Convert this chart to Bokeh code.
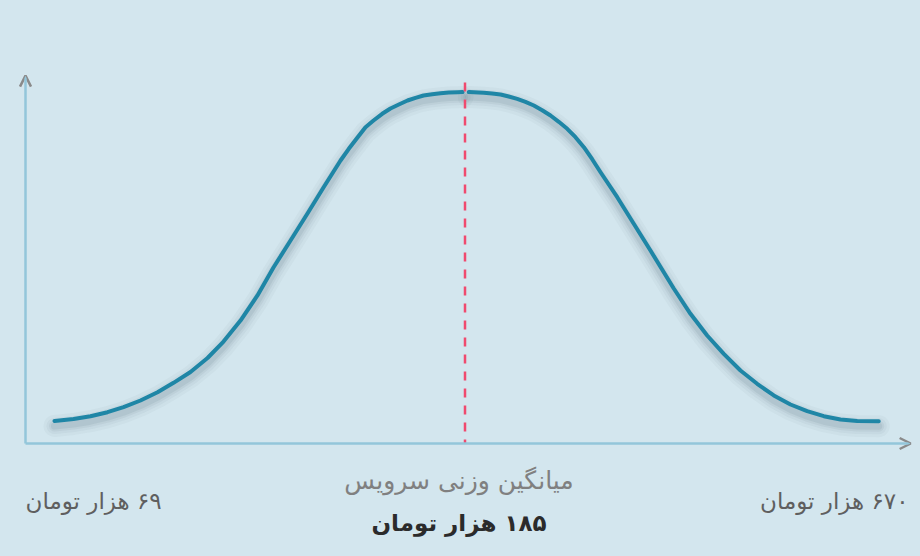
from bokeh.plotting import figure
from bokeh.models import Range1d, Arrow, OpenHead, Label, GlobalInlineStyleSheet
from bokeh.embed import file_html
from bokeh.resources import INLINE

# ---------------- data (x: position 0-100 along price axis, y: relative frequency 0-100) -------------
left_x = [3.30, 5.46, 7.39, 9.33, 11.15, 13.08, 15.02, 16.84, 18.77, 20.71, 22.53, 24.46, 26.39,
          28.21, 30.15, 32.08, 33.90, 35.84, 36.78, 37.77, 38.68, 39.59, 40.58, 41.52, 42.47,
          43.46, 44.37, 45.28, 46.27, 47.21, 48.16, 49.15, 49.72]
left_y = [6.23, 6.79, 7.56, 8.67, 10.06, 11.91, 14.21, 16.81, 19.81, 23.68, 28.25, 34.07, 41.00,
          48.75, 56.23, 63.71, 70.91, 78.39, 81.63, 84.76, 87.62, 89.47, 91.33, 92.80, 93.91,
          95.01, 95.76, 96.40, 96.76, 97.04, 97.23, 97.31, 97.34]
right_x = [50.43, 52.14, 53.09, 54.04, 54.98, 55.94, 56.88, 57.83, 58.78, 59.73, 60.67, 61.63,
           62.57, 63.52, 64.47, 65.42, 67.32, 69.20, 71.10, 73.75, 75.65, 77.55, 79.44, 81.34,
           83.24, 85.13, 87.03, 88.93, 90.82, 92.72, 94.62, 97.07]
right_y = [97.34, 97.15, 96.95, 96.68, 96.12, 95.48, 94.65, 93.63, 92.33, 90.86, 89.11, 87.17,
           84.85, 82.08, 78.75, 75.15, 68.23, 60.86, 53.46, 42.94, 35.93, 29.92, 24.85, 20.22,
           16.54, 13.30, 10.80, 8.95, 7.56, 6.65, 6.23, 6.18]

mean_x = 50.0
mean_top = 100.0
x_axis_end = 100.7
y_axis_end = 101.9

mean_caption = "میانگین وزنی سرویس"
mean_label = "۱۸۵ هزار تومان"
min_label = "۶۹ هزار تومان"
max_label = "۶۷۰ هزار تومان"

# ---------------- layout / style ----------------
W, H = 920, 556
BG = "#d3e6ee"
ORIG_PX, ORIG_PY = 25, 443             # origin in canvas pixels
SX, SY = 8.79, 3.61                    # pixels per data unit

x0 = -ORIG_PX / SX
x1 = (W - ORIG_PX) / SX
y0 = -(H - ORIG_PY) / SY
y1 = ORIG_PY / SY

p = figure(width=W, height=H, output_backend="svg", toolbar_location=None,
           x_range=Range1d(x0, x1), y_range=Range1d(y0, y1),
           x_axis_type=None, y_axis_type=None, min_border=0,
           background_fill_color=BG, border_fill_color=BG, outline_line_color=None)
p.grid.visible = False
p.stylesheets = [GlobalInlineStyleSheet(css=f"body {{ background: {BG}; }}")]

# shadow (drawn on a shifted range so it sits a few px below the curve)
shift = 5 / SY
p.extra_y_ranges = {"shadow": Range1d(y0 + shift, y1 + shift)}
for w, a in [(22, 0.035), (16, 0.045), (11, 0.06), (7, 0.08)]:
    for xs, ys in [(left_x, left_y), (right_x, right_y)]:
        p.line(xs, ys, line_color="#2c4a58", line_width=w, line_alpha=a,
               line_cap="round", line_join="round", y_range_name="shadow")

# axes with arrows
p.add_layout(Arrow(x_start=0, y_start=0, x_end=x_axis_end, y_end=0,
                   line_color="#93c6da", line_width=2.5,
                   end=OpenHead(size=11, line_color="#8a8a8a", line_width=2.5)))
p.add_layout(Arrow(x_start=0, y_start=0, x_end=0, y_end=y_axis_end,
                   line_color="#93c6da", line_width=2.5,
                   end=OpenHead(size=11, line_color="#8a8a8a", line_width=2.5)))

# curve
for xs, ys in [(left_x, left_y), (right_x, right_y)]:
    p.line(xs, ys, line_color="#1f86a6", line_width=4, line_cap="round", line_join="round")

# mean line
p.line([mean_x, mean_x], [mean_top, 0], line_color="#f04a6e", line_width=2.5, line_dash="9 8")

FONT = "DejaVu Sans"
RLE, PDF = "\u202b", "\u202c"
p.add_layout(Label(x=mean_x, y=-(480 - ORIG_PY) / SY, x_offset=-6, text=mean_caption,
                   text_align="center", text_baseline="middle", text_font=FONT,
                   text_font_size="25px", text_color="#808080"))
p.add_layout(Label(x=mean_x, y=-(522 - ORIG_PY) / SY, x_offset=-6, text=RLE + mean_label + PDF,
                   text_align="center", text_baseline="middle", text_font=FONT,
                   text_font_size="23px", text_font_style="bold", text_color="#2b2b2b"))
p.add_layout(Label(x=0, y=-(500 - ORIG_PY) / SY, text=RLE + min_label + PDF,
                   text_align="left", text_baseline="middle", text_font=FONT,
                   text_font_size="23px", text_color="#5f5f5f"))
p.add_layout(Label(x=(908 - ORIG_PX) / SX, y=-(500 - ORIG_PY) / SY, text=RLE + max_label + PDF,
                   text_align="right", text_baseline="middle", text_font=FONT,
                   text_font_size="23px", text_color="#5f5f5f"))

open("out.html", "w").write(file_html(p, INLINE))
